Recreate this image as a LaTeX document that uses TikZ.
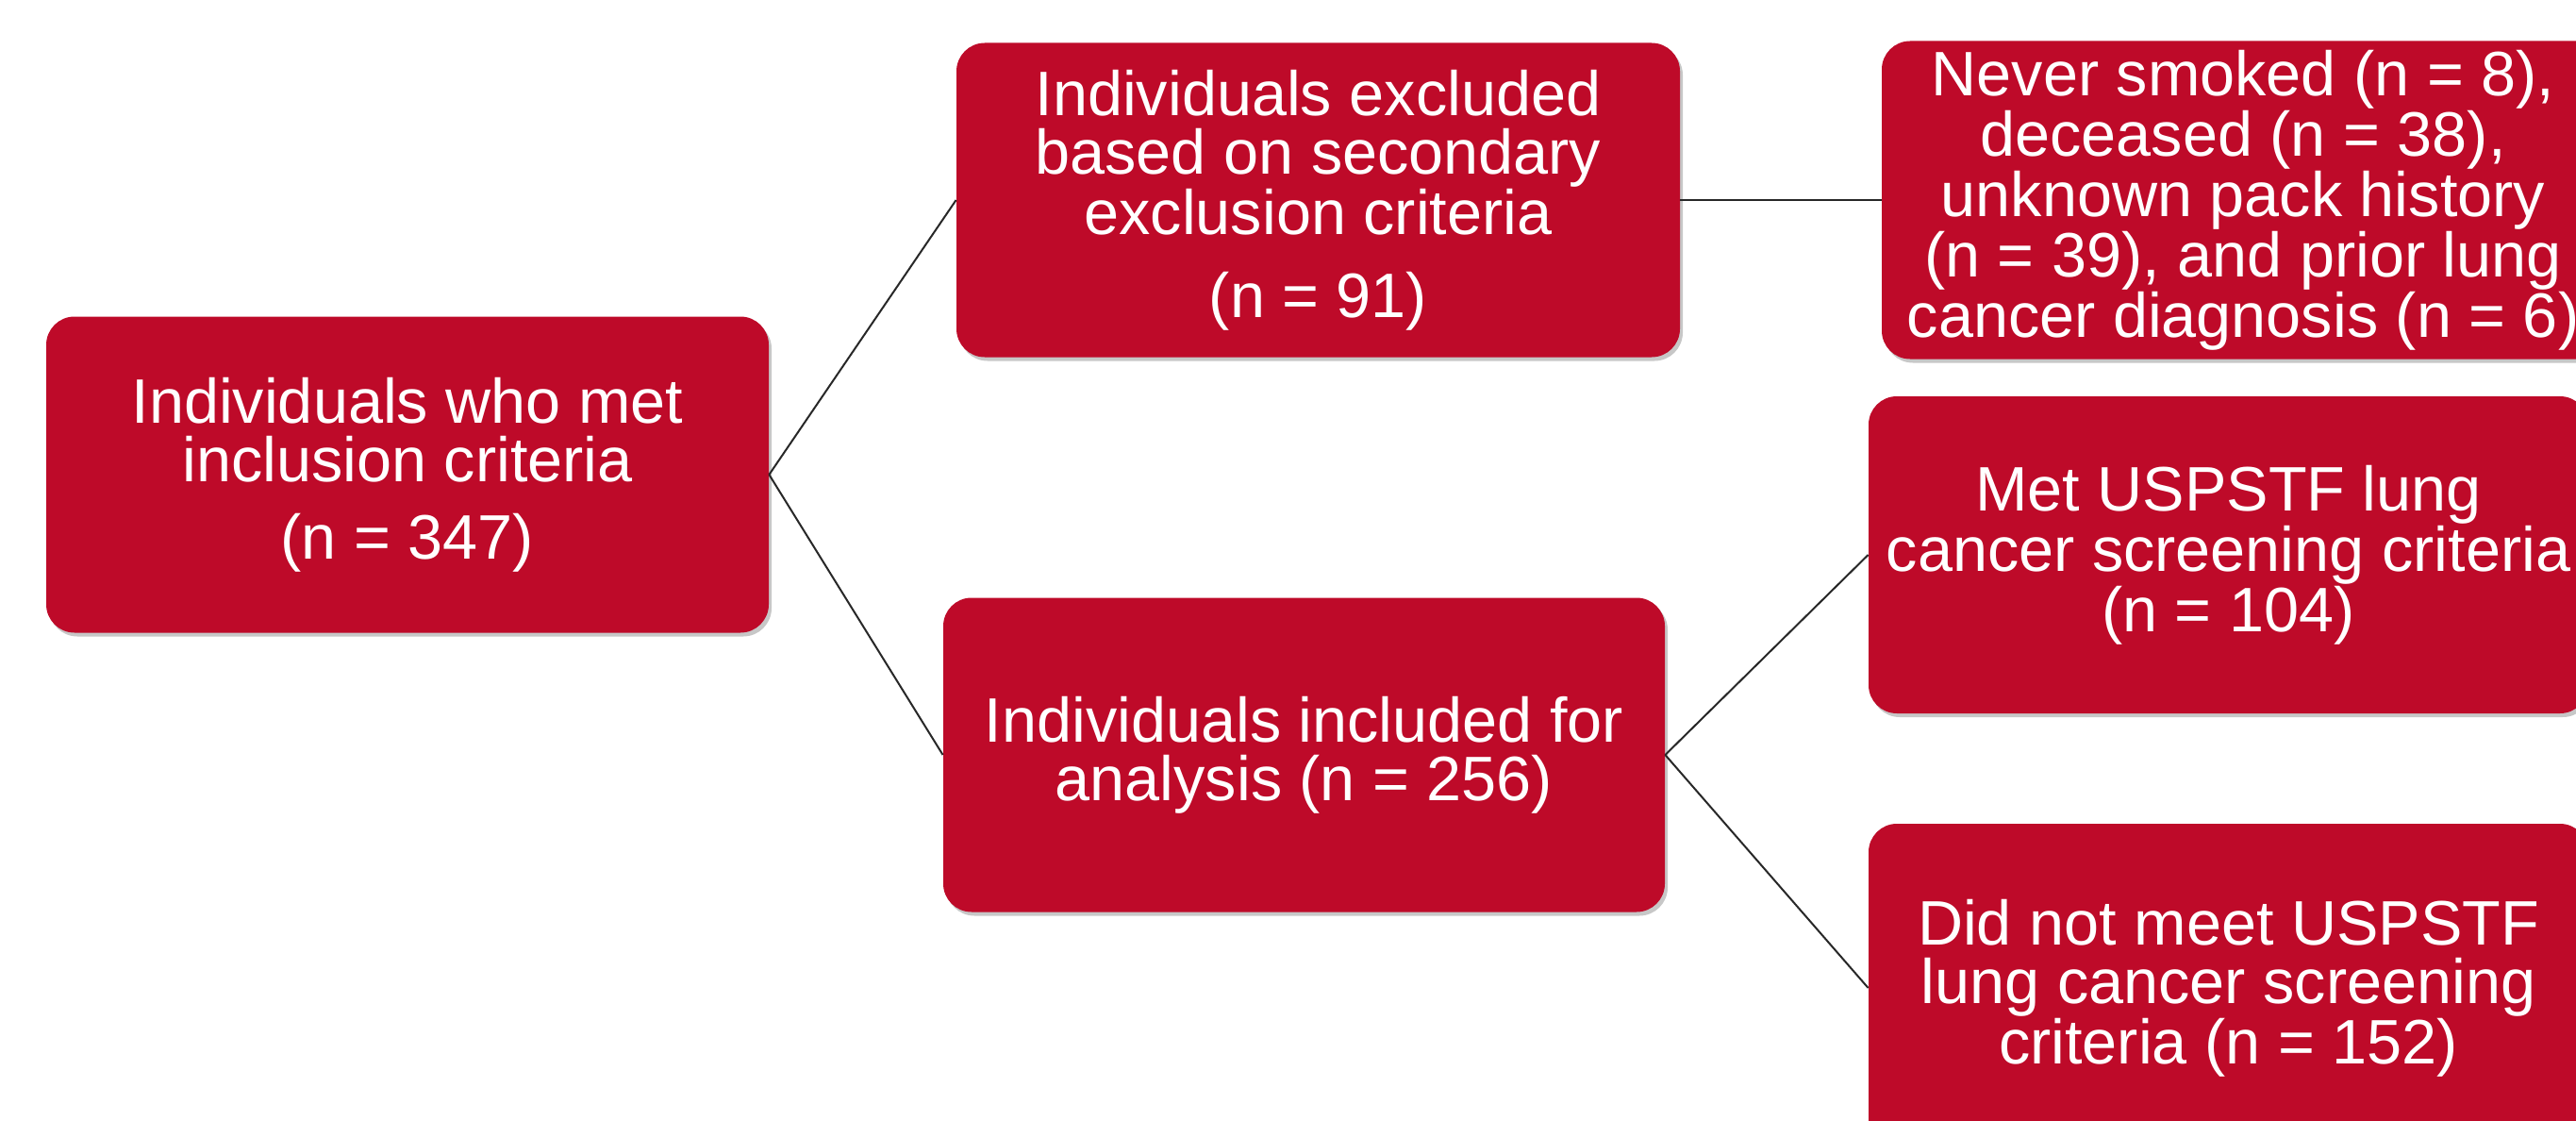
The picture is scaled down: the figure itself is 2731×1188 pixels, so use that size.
\documentclass[tikz,border=0pt]{standalone}
\usepackage{fontspec}
\setmainfont{Liberation Sans}
\usetikzlibrary{shadows}
\definecolor{boxred}{RGB}{190,10,41}
\definecolor{linegray}{RGB}{40,40,40}
\begin{document}
\begin{tikzpicture}[x=0.5pt,y=-0.5pt,
  redbox/.style={rectangle, rounded corners=15pt, fill=boxred, text=white,
    align=center, inner sep=0pt,
    font=\fontsize{33.3pt}{31pt}\selectfont,
    drop shadow={shadow xshift=1.5pt, shadow yshift=-2pt, fill=black, opacity=0.22}},
  link/.style={draw=linegray, line width=1pt}]
\clip (0,0) rectangle (2731,1188);
\fill[white] (0,0) rectangle (2731,1188);
\node[redbox, minimum width=383pt, minimum height=167.5pt] (A) at (432,503)
  {Individuals who met\\inclusion criteria\\[10pt](n = 347)};
\node[redbox, minimum width=383.5pt, minimum height=166.5pt] (B) at (1397.5,212)
  {Individuals excluded\\based on secondary\\exclusion criteria\\[13pt](n = 91)};
\node[redbox, minimum width=382.5pt, minimum height=166.5pt] (C) at (1382.5,800)
  {Individuals included for\\analysis (n = 256)};
\node[redbox, minimum width=383pt, minimum height=168.5pt] (D) at (2378,212)
  {Never smoked (n = 8),\\deceased (n = 38),\\unknown pack history\\(n = 39), and prior lung\\cancer diagnosis (n = 6)};
\node[redbox, minimum width=381.5pt, minimum height=168pt] (E) at (2362.5,588)
  {Met USPSTF lung\\cancer screening criteria\\(n = 104)};
\node[redbox, minimum width=381.5pt, minimum height=174pt] (F) at (2362.5,1047)
  {Did not meet USPSTF\\lung cancer screening\\criteria (n = 152)};
\draw[link] (A.east) -- (B.west);
\draw[link] (A.east) -- (C.west);
\draw[link] (B.east) -- (D.west);
\draw[link] (C.east) -- (E.west);
\draw[link] (C.east) -- (F.west);
\end{tikzpicture}
\end{document}
